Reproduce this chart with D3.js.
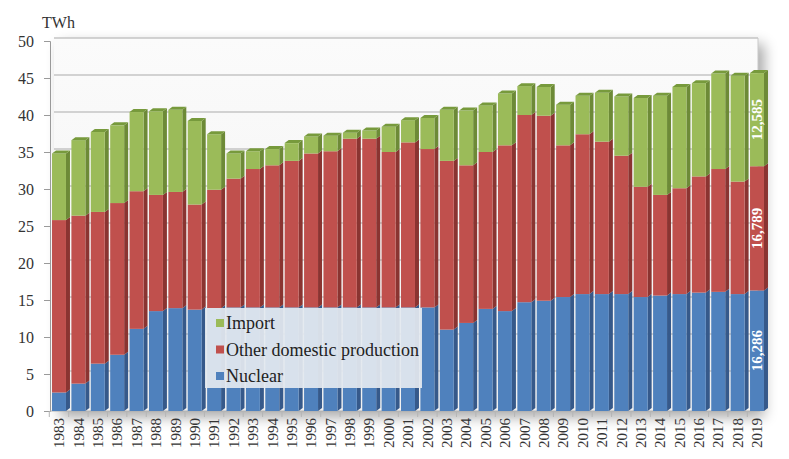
<!DOCTYPE html>
<html>
<head>
<meta charset="utf-8">
<script src="https://cdn.jsdelivr.net/npm/d3@7"></script>
<style>
  body { margin: 0; background: #fff; }
  svg { display: block; font-family: "Liberation Serif", "Times New Roman", serif; }
</style>
</head>
<body>
<svg width="789" height="459"></svg>
<script>
// data (TWh)
var years = d3.range(1983, 2020).map(String);
var nuclear = [2.5, 3.7, 6.4, 7.6, 11.1, 13.5, 13.9, 13.7, 13.9, 14.0, 14.0, 14.0, 14.0, 14.0, 14.0, 14.0, 14.0, 14.0, 14.0, 14.0,
  11.0, 11.9, 13.8, 13.5, 14.7, 14.9, 15.4, 15.8, 15.8, 15.8, 15.4, 15.6, 15.8, 16.0, 16.1, 15.8, 16.286];
var otherDomestic = [23.3, 22.7, 20.5, 20.5, 18.6, 15.7, 15.7, 14.2, 16.0, 17.4, 18.7, 19.2, 19.8, 20.8, 21.1, 22.8, 22.8, 21.0, 22.3, 21.4,
  22.8, 21.3, 21.2, 22.4, 25.3, 25.0, 20.5, 21.6, 20.6, 18.7, 14.9, 13.6, 14.3, 15.7, 16.6, 15.2, 16.789];
var imports = [9.0, 10.2, 10.8, 10.5, 10.7, 11.3, 11.1, 11.3, 7.5, 3.4, 2.4, 2.2, 2.4, 2.3, 2.1, 0.8, 1.1, 3.4, 3.0, 4.2,
  6.9, 7.4, 6.3, 7.0, 3.9, 3.9, 5.5, 5.2, 6.6, 8.0, 12.0, 13.4, 13.7, 12.6, 12.9, 14.3, 12.585];
var yTicks = [0, 5, 10, 15, 20, 25, 30, 35, 40, 45, 50];
var seriesNames = ["Nuclear", "Other domestic production", "Import"];
var lastLabels = ["16,286", "16,789", "12,585"];

var colors = ["#4f81bd", "#c0504d", "#9bbb59"];
var sideColors = ["#36598a", "#8a3431", "#6d8a37"];
var topColors = ["#6f96c8", "#cf6f6c", "#779a3c"];

var svg = d3.select('svg');
var margin = { top: 41, left: 50, right: 31, bottom: 48 };
var width = 789, height = 459;
var depthX = 4, depthY = 3;

var table = years.map(function (y, i) {
  return { year: y, Nuclear: nuclear[i], "Other domestic production": otherDomestic[i], Import: imports[i] };
});
var stacked = d3.stack().keys(seriesNames)(table);

var x = d3.scaleBand()
  .domain(years)
  .range([49.3, 766.7])
  .paddingInner(0.28)
  .paddingOuter(0.14);

var y = d3.scaleLinear()
  .domain([0, 50])
  .range([411, 41]);

var defs = svg.append('defs');
var shadow = defs.append('filter').attr('id', 'shadow')
  .attr('x', '-10%').attr('y', '-10%').attr('width', '130%').attr('height', '130%');
shadow.append('feGaussianBlur').attr('in', 'SourceAlpha').attr('stdDeviation', 7);
shadow.append('feOffset').attr('dx', 6).attr('dy', 6).attr('result', 'ob');
shadow.append('feComponentTransfer').append('feFuncA').attr('type', 'linear').attr('slope', 0.35);
var merge = shadow.append('feMerge');
merge.append('feMergeNode');
merge.append('feMergeNode').attr('in', 'SourceGraphic');

var wallGrad = defs.append('linearGradient').attr('id', 'wall')
  .attr('x1', 0).attr('y1', 0).attr('x2', 0).attr('y2', 1);
wallGrad.append('stop').attr('offset', '0%').attr('stop-color', '#fbfbfb');
wallGrad.append('stop').attr('offset', '100%').attr('stop-color', '#f1f1f1');

// back wall with soft shadow
svg.append('rect')
  .attr('x', 54).attr('y', 38)
  .attr('width', 758 - 54).attr('height', 411 - 38)
  .attr('fill', 'url(#wall)')
  .attr('filter', 'url(#shadow)');

// gridlines
svg.append('g')
  .selectAll('line')
  .data(yTicks.filter(function (d) { return d > 0; }))
  .enter().append('line')
  .attr('x1', 54).attr('x2', 758)
  .attr('y1', function (d) { return y(d) - 3; })
  .attr('y2', function (d) { return y(d) - 3; })
  .attr('stroke', '#c4c4c4')
  .attr('stroke-width', 1.3);

svg.append('line')
  .attr('x1', 758).attr('x2', 758).attr('y1', y(50) - 3).attr('y2', 411)
  .attr('stroke', '#c9c9c9');

// y axis
var yAxis = d3.axisLeft(y)
  .tickValues(yTicks)
  .tickSize(6)
  .tickPadding(10);

var gy = svg.append('g')
  .attr('transform', 'translate(' + [50, 0] + ')')
  .call(yAxis);
gy.select('.domain').attr('stroke', '#9a9a9a');
gy.selectAll('.tick line').attr('stroke', '#9a9a9a');
gy.selectAll('text')
  .attr('font-family', '"Liberation Serif", serif')
  .attr('font-size', 16)
  .attr('fill', '#333');

svg.append('text')
  .attr('x', 42).attr('y', 28)
  .attr('font-size', 16)
  .attr('fill', '#333')
  .text('TWh');

// x axis
var xAxis = d3.axisBottom(x).tickSize(0).tickPadding(0);
var gx = svg.append('g')
  .attr('transform', 'translate(' + [0, 411] + ')')
  .call(xAxis);
gx.select('.domain').attr('stroke', '#b0b0b0').attr('d', 'M50,0H760');
gx.selectAll('.tick text')
  .attr('font-family', '"Liberation Serif", serif')
  .attr('font-size', 15)
  .attr('fill', '#333')
  .attr('text-anchor', 'end')
  .attr('dy', '0.35em')
  .attr('transform', 'translate(0,7) rotate(-90)');

// little separators between the year slots
svg.append('g')
  .selectAll('line')
  .data(years)
  .enter().append('line')
  .attr('x1', function (d) { return x(d) - (x.step() - x.bandwidth()) / 2; })
  .attr('x2', function (d) { return x(d) - (x.step() - x.bandwidth()) / 2; })
  .attr('y1', 411).attr('y2', 417)
  .attr('stroke', '#b5b5b5');

// bars (fake 3D: front + side + top)
var layers = svg.append('g').selectAll('g')
  .data(stacked)
  .enter().append('g');

var bw = x.bandwidth();

layers.each(function (layer, li) {
  var g = d3.select(this);
  g.selectAll('polygon.side')
    .data(layer)
    .enter().append('polygon')
    .attr('class', 'side')
    .attr('fill', sideColors[li])
    .attr('points', function (d) {
      var x0 = x(d.data.year) + bw, y0 = y(d[1]), y1 = y(d[0]);
      return [[x0, y0], [x0 + depthX, y0 - depthY], [x0 + depthX, y1 - depthY], [x0, y1]].join(' ');
    });
  g.selectAll('rect')
    .data(layer)
    .enter().append('rect')
    .attr('x', function (d) { return x(d.data.year); })
    .attr('y', function (d) { return y(d[1]); })
    .attr('width', bw)
    .attr('height', function (d) { return y(d[0]) - y(d[1]); })
    .attr('fill', colors[li]);
  if (li === stacked.length - 1) {
    g.selectAll('polygon.top')
      .data(layer)
      .enter().append('polygon')
      .attr('class', 'top')
      .attr('fill', topColors[li])
      .attr('points', function (d) {
        var x0 = x(d.data.year), yt = y(d[1]);
        return [[x0, yt], [x0 + depthX, yt - depthY], [x0 + bw + depthX, yt - depthY], [x0 + bw, yt]].join(' ');
      });
  }
});

// value labels on the last bar
var lastIdx = years.length - 1;
svg.append('g').selectAll('text')
  .data(stacked)
  .enter().append('text')
  .attr('transform', function (layer) {
    var d = layer[lastIdx];
    var cx = x(d.data.year) + bw / 2;
    var cy = (y(d[0]) + y(d[1])) / 2;
    return 'translate(' + [cx, cy] + ') rotate(-90)';
  })
  .attr('text-anchor', 'middle')
  .attr('dy', '0.35em')
  .attr('font-size', 15)
  .attr('font-weight', 'bold')
  .attr('fill', '#fff')
  .text(function (layer, i) { return lastLabels[i]; });

// legend
var legend = svg.append('g').attr('transform', 'translate(205,308)');
legend.append('rect')
  .attr('width', 217).attr('height', 80)
  .attr('fill', '#e3e8ef')
  .attr('fill-opacity', 0.93);
var order = [2, 1, 0];
legend.selectAll('g.item')
  .data(order)
  .enter().append('g')
  .attr('class', 'item')
  .attr('transform', function (d, i) { return 'translate(' + [11, 15 + i * 26.5] + ')'; })
  .each(function (k) {
    var it = d3.select(this);
    it.append('rect').attr('x', 0).attr('y', -4).attr('width', 8).attr('height', 8).attr('fill', colors[k]);
    it.append('text').attr('x', 10).attr('dy', '0.35em')
      .attr('font-size', 18).attr('fill', '#222')
      .text(seriesNames[k]);
  });
</script>
</body>
</html>
